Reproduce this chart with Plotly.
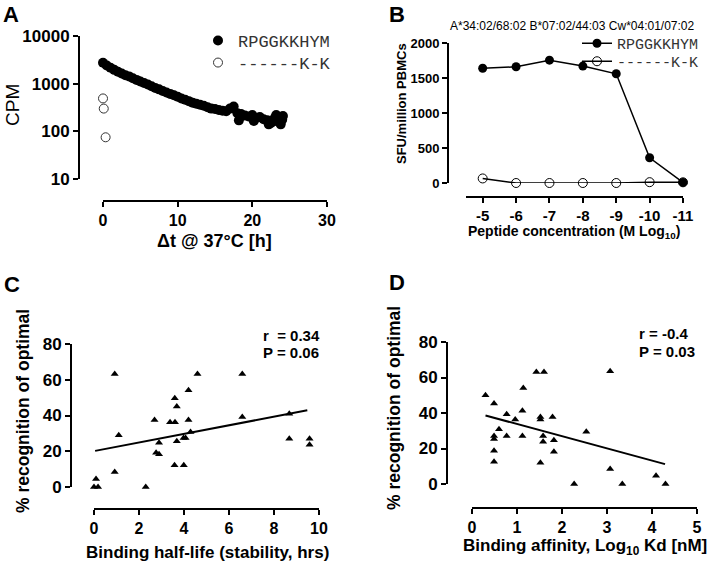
import plotly.graph_objects as go

# ---- data ----
# A: peptide/MHC dissociation at 37C
a_hours = [0, 0.5, 1, 1.5, 2, 2.5, 3, 3.5, 4, 4.5, 5, 5.5, 6, 6.5, 7, 7.5, 8, 8.5, 9, 9.5,
           10, 10.5, 11, 11.5, 12, 12.5, 13, 13.5, 14, 14.5, 15, 15.5, 16, 16.5, 17, 17.5,
           18, 18.2, 18.5, 19, 19.5, 20, 20.2, 20.5, 21, 21.5, 22, 22.2, 22.5, 23, 23.2,
           23.5, 23.8, 24, 24.1]
a_cpm = [2750, 2400, 2150, 1950, 1780, 1630, 1500, 1420, 1300, 1200, 1110, 1030, 960, 880,
         810, 760, 700, 650, 610, 570, 530, 490, 460, 430, 400, 380, 360, 345, 320, 300,
         295, 280, 270, 265, 300, 330, 240, 170, 230, 215, 205, 220, 165, 190, 200, 180,
         170, 140, 150, 190, 220, 160, 140, 175, 210]
a_ctrl_hours = [0.0, 0.1, 0.35]
a_ctrl_cpm = [490, 300, 75]
a_ticks = [10, 100, 1000, 10000]
a_xticks = [0, 10, 20, 30]

# B: peptide titration
b_conc = [-5, -6, -7, -8, -9, -10, -11]
b_opt = [1640, 1660, 1755, 1670, 1560, 360, 8]
b_var = [65, 0, 0, 0, 0, 12, 10]
b_yticks = [0, 500, 1000, 1500, 2000]

# C: recognition vs binding half-life
c_x = [0.92, 0.09, 0.0, 0.18, 0.92, 1.1, 2.3, 2.69, 2.76, 2.89, 2.89, 3.38, 3.6, 3.59, 3.68,
       3.68, 3.58, 3.99, 3.98, 4.07, 4.2, 4.2, 4.29, 4.6, 6.59, 6.59, 8.68, 8.68, 9.58, 9.58]
c_y = [63.2, 4.5, 0, 0, 8.4, 28.9, 0, 37.5, 19.2, 18.3, 24.8, 36.2, 36.2, 49.6, 45.1,
       25.6, 12.1, 12.1, 27.4, 27.4, 37.5, 54.1, 30.8, 63.2, 63.2, 39.2, 41.0, 27.0, 27.0, 23.7]
c_fit_x = [0.05, 9.48]
c_fit_y = [20.2, 42.9]
c_xticks = [0, 2, 4, 6, 8, 10]

# D: recognition vs binding affinity
d_x = [0.30, 0.49, 0.49, 0.49, 0.49, 0.49, 0.60, 0.77, 0.77, 0.96, 1.12, 1.14, 1.12, 1.43,
       1.60, 1.52, 1.52, 1.52, 1.58, 1.58, 1.79, 1.82, 1.82, 2.27, 2.54, 3.07, 3.07, 3.34,
       4.09, 4.30]
d_y = [50, 45.3, 27, 25.3, 18.7, 12.5, 30.9, 39.3, 27, 36.3, 41.2, 54.1, 27, 63.1, 63.1,
       37.8, 36.3, 12, 27, 23.8, 37.8, 24.7, 18.2, 0, 29.4, 63.5, 8.4, 0, 4.7, 0]
d_fit_x = [0.30, 4.29]
d_fit_y = [38.6, 11.2]
d_xticks = [0, 1, 2, 3, 4, 5]
pct_ticks = [0, 20, 40, 60, 80]

W, H = 714, 562
FONT = "Liberation Sans"
MONO = "Liberation Mono"


def fx(p):
    return p / W


def fy(p):
    return 1 - p / H


def bold(vals):
    return ["<b>%s</b>" % v for v in vals]


fig = go.Figure()

# A
fig.add_trace(go.Scatter(x=a_hours, y=a_cpm, mode="markers", name="RPGGKKHYM",
                         marker=dict(symbol="circle", size=10, color="black"),
                         xaxis="x", yaxis="y", legend="legend", cliponaxis=False))
fig.add_trace(go.Scatter(x=a_ctrl_hours, y=a_ctrl_cpm, mode="markers", name="------K-K",
                         marker=dict(symbol="circle-open", size=9, color="#333",
                                     line=dict(width=1)),
                         xaxis="x", yaxis="y", legend="legend3", cliponaxis=False))

# B
fig.add_trace(go.Scatter(x=b_conc, y=b_opt, mode="lines+markers", name="RPGGKKHYM",
                         marker=dict(symbol="circle", size=9, color="black"),
                         line=dict(color="black", width=1.5),
                         xaxis="x2", yaxis="y2", legend="legend2", cliponaxis=False))
fig.add_trace(go.Scatter(x=b_conc, y=b_var, mode="lines+markers", name="------K-K",
                         marker=dict(symbol="circle-open", size=9, color="black",
                                     line=dict(width=1)),
                         line=dict(color="black", width=1.5),
                         xaxis="x2", yaxis="y2", legend="legend4", cliponaxis=False))

# C
fig.add_trace(go.Scatter(x=c_x, y=c_y, mode="markers", showlegend=False,
                         marker=dict(symbol="triangle-up", size=7, color="black"),
                         xaxis="x3", yaxis="y3", cliponaxis=False))
fig.add_trace(go.Scatter(x=c_fit_x, y=c_fit_y, mode="lines", showlegend=False,
                         line=dict(color="black", width=2), xaxis="x3", yaxis="y3"))

# D
fig.add_trace(go.Scatter(x=d_x, y=d_y, mode="markers", showlegend=False,
                         marker=dict(symbol="triangle-up", size=7, color="black"),
                         xaxis="x4", yaxis="y4", cliponaxis=False))
fig.add_trace(go.Scatter(x=d_fit_x, y=d_fit_y, mode="lines", showlegend=False,
                         line=dict(color="black", width=2), xaxis="x4", yaxis="y4"))

ax = dict(showline=True, linecolor="black", linewidth=2, ticks="outside", ticklen=5,
          tickwidth=2, tickcolor="black", showgrid=False, zeroline=False, anchor="free",
          automargin=False)


def tf(size):
    return dict(family=FONT, size=size, color="black")


def leg(x, y, size):
    return dict(x=fx(x), y=fy(y), xanchor="left", yanchor="top",
                font=dict(family=MONO, size=size, color="#333"),
                bgcolor="rgba(0,0,0,0)", borderwidth=0, tracegroupgap=0)


fig.update_layout(
    template="none",
    width=W, height=H, margin=dict(l=0, r=0, t=0, b=0, pad=0, autoexpand=False),
    paper_bgcolor="white", plot_bgcolor="white",
    font=dict(family=FONT, color="black"),
    xaxis=dict(ax, domain=[fx(103), fx(327)], range=[0, 30], tickvals=a_xticks,
               ticktext=bold(a_xticks), position=fy(201), tickfont=tf(16)),
    yaxis=dict(ax, domain=[fy(179), fy(36)], type="log", range=[1, 4], tickvals=a_ticks,
               ticktext=bold(a_ticks), position=fx(79), tickfont=tf(17)),
    xaxis2=dict(ax, domain=[fx(466), fx(683)], range=[-4.5, -11], tickvals=b_conc,
                ticktext=bold(b_conc), position=fy(197), tickfont=tf(15)),
    yaxis2=dict(ax, domain=[fy(183), fy(43)], range=[0, 2000], tickvals=b_yticks,
                ticktext=bold(b_yticks), position=fx(448), tickfont=tf(13)),
    xaxis3=dict(ax, domain=[fx(94), fx(319)], range=[0, 10], tickvals=c_xticks,
                ticktext=bold(c_xticks), position=fy(509), tickfont=tf(16)),
    yaxis3=dict(ax, domain=[fy(487), fy(344)], range=[0, 80], tickvals=pct_ticks,
                ticktext=bold(pct_ticks), position=fx(71), tickfont=tf(17)),
    xaxis4=dict(ax, domain=[fx(472), fx(697)], range=[0, 5], tickvals=d_xticks,
                ticktext=bold(d_xticks), position=fy(508), tickfont=tf(16)),
    yaxis4=dict(ax, domain=[fy(484), fy(342)], range=[0, 80], tickvals=pct_ticks,
                ticktext=bold(pct_ticks), position=fx(447), tickfont=tf(17)),
    legend=leg(198, 23, 17),
    legend3=leg(198, 45, 17),
    legend2=leg(577, 27, 15),
    legend4=leg(577, 45, 15),
)


def note(text, x, y, size, bold=True, angle=0, xanchor="center"):
    fig.add_annotation(text=text, x=fx(x), y=fy(y), xref="paper", yref="paper",
                       showarrow=False, textangle=angle, xanchor=xanchor, yanchor="middle",
                       font=dict(family=FONT, size=size, color="black",
                                 weight="bold" if bold else "normal"))


# panel letters
note("A", 11, 15, 22)
note("B", 397, 15, 22)
note("C", 12, 284, 22)
note("D", 397, 282, 22)

# A titles
note("CPM", 12, 105, 19, bold=False, angle=-90)
note("\u0394t @ 37\u00b0C [h]", 214, 241, 18)

# B titles
note("A*34:02/68:02 B*07:02/44:03 Cw*04:01/07:02", 572, 26, 12, bold=False)
note("SFU/million PBMCs", 402, 104, 13, angle=-90)
note("Peptide concentration (M Log<sub>10</sub>)", 574, 232, 14)

# C titles
note("% recognition of optimal", 23, 411, 17.5, angle=-90)
note("Binding half-life (stability, hrs)", 207, 552, 17)
note("r \u00a0= 0.34", 261, 335, 15, xanchor="left")
note("P = 0.06", 261, 352, 15, xanchor="left")

# D titles
note("% recognition of optimal", 394, 408, 17.5, angle=-90)
note("Binding affinity, Log<sub>10</sub> Kd [nM]", 585, 547, 17)
note("r = -0.4", 637, 333, 15, xanchor="left")
note("P = 0.03", 637, 351, 15, xanchor="left")

# the page's default body margin would push the 714x562 figure off the window
fig.write_html("out.html", config={"displayModeBar": False},
               post_script="document.body.style.margin='0';document.body.style.overflow='hidden';")
